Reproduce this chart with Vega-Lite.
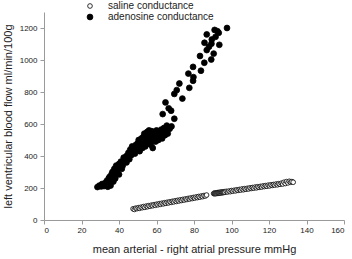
{
  "$schema": "https://vega.github.io/schema/vega-lite/v6.json",
  "width": 300,
  "height": 208,
  "autosize": {"type": "none"},
  "padding": {"left": 44, "top": 12, "right": 8, "bottom": 39},
  "background": "white",
  "config": {
    "view": {"stroke": null},
    "font": "Liberation Sans",
    "legend": {"labelOffset": 13},
    "axis": {
      "grid": false,
      "domainColor": "#9a9a9a",
      "tickColor": "#9a9a9a",
      "tickSize": 4,
      "labelFontSize": 8,
      "labelColor": "#222",
      "titleFontSize": 11,
      "titleFontWeight": "normal",
      "titleColor": "#222"
    }
  },
  "data": {
    "values": [
      {"x": 28.5, "y": 206, "g": "adenosine conductance"},
      {"x": 29.5, "y": 215, "g": "adenosine conductance"},
      {"x": 30.5, "y": 210, "g": "adenosine conductance"},
      {"x": 31, "y": 225, "g": "adenosine conductance"},
      {"x": 32, "y": 212, "g": "adenosine conductance"},
      {"x": 32.5, "y": 230, "g": "adenosine conductance"},
      {"x": 33, "y": 220, "g": "adenosine conductance"},
      {"x": 33.5, "y": 245, "g": "adenosine conductance"},
      {"x": 34, "y": 208, "g": "adenosine conductance"},
      {"x": 34.5, "y": 260, "g": "adenosine conductance"},
      {"x": 35, "y": 232, "g": "adenosine conductance"},
      {"x": 35, "y": 270, "g": "adenosine conductance"},
      {"x": 35.5, "y": 215, "g": "adenosine conductance"},
      {"x": 36, "y": 250, "g": "adenosine conductance"},
      {"x": 36, "y": 285, "g": "adenosine conductance"},
      {"x": 36.5, "y": 300, "g": "adenosine conductance"},
      {"x": 37, "y": 240, "g": "adenosine conductance"},
      {"x": 37, "y": 275, "g": "adenosine conductance"},
      {"x": 37.5, "y": 320, "g": "adenosine conductance"},
      {"x": 38, "y": 290, "g": "adenosine conductance"},
      {"x": 38, "y": 260, "g": "adenosine conductance"},
      {"x": 38.5, "y": 340, "g": "adenosine conductance"},
      {"x": 39, "y": 305, "g": "adenosine conductance"},
      {"x": 39.5, "y": 330, "g": "adenosine conductance"},
      {"x": 40, "y": 350, "g": "adenosine conductance"},
      {"x": 40, "y": 285, "g": "adenosine conductance"},
      {"x": 41, "y": 365, "g": "adenosine conductance"},
      {"x": 41.5, "y": 320, "g": "adenosine conductance"},
      {"x": 42, "y": 340, "g": "adenosine conductance"},
      {"x": 42.5, "y": 390, "g": "adenosine conductance"},
      {"x": 43, "y": 370, "g": "adenosine conductance"},
      {"x": 44, "y": 400, "g": "adenosine conductance"},
      {"x": 44, "y": 360, "g": "adenosine conductance"},
      {"x": 45, "y": 420, "g": "adenosine conductance"},
      {"x": 45.5, "y": 380, "g": "adenosine conductance"},
      {"x": 46, "y": 440, "g": "adenosine conductance"},
      {"x": 46.5, "y": 405, "g": "adenosine conductance"},
      {"x": 47, "y": 460, "g": "adenosine conductance"},
      {"x": 47, "y": 430, "g": "adenosine conductance"},
      {"x": 48, "y": 450, "g": "adenosine conductance"},
      {"x": 48.5, "y": 415, "g": "adenosine conductance"},
      {"x": 49, "y": 470, "g": "adenosine conductance"},
      {"x": 49.5, "y": 440, "g": "adenosine conductance"},
      {"x": 50, "y": 480, "g": "adenosine conductance"},
      {"x": 50, "y": 455, "g": "adenosine conductance"},
      {"x": 50.5, "y": 500, "g": "adenosine conductance"},
      {"x": 51, "y": 430, "g": "adenosine conductance"},
      {"x": 51.5, "y": 470, "g": "adenosine conductance"},
      {"x": 52, "y": 510, "g": "adenosine conductance"},
      {"x": 52, "y": 490, "g": "adenosine conductance"},
      {"x": 52.5, "y": 450, "g": "adenosine conductance"},
      {"x": 53, "y": 520, "g": "adenosine conductance"},
      {"x": 53, "y": 475, "g": "adenosine conductance"},
      {"x": 53.5, "y": 540, "g": "adenosine conductance"},
      {"x": 54, "y": 500, "g": "adenosine conductance"},
      {"x": 54, "y": 460, "g": "adenosine conductance"},
      {"x": 54.5, "y": 530, "g": "adenosine conductance"},
      {"x": 55, "y": 550, "g": "adenosine conductance"},
      {"x": 55, "y": 510, "g": "adenosine conductance"},
      {"x": 55.5, "y": 480, "g": "adenosine conductance"},
      {"x": 56, "y": 560, "g": "adenosine conductance"},
      {"x": 56, "y": 520, "g": "adenosine conductance"},
      {"x": 56.5, "y": 540, "g": "adenosine conductance"},
      {"x": 57, "y": 500, "g": "adenosine conductance"},
      {"x": 57, "y": 470, "g": "adenosine conductance"},
      {"x": 57.5, "y": 555, "g": "adenosine conductance"},
      {"x": 58, "y": 530, "g": "adenosine conductance"},
      {"x": 58, "y": 450, "g": "adenosine conductance"},
      {"x": 58.5, "y": 510, "g": "adenosine conductance"},
      {"x": 59, "y": 545, "g": "adenosine conductance"},
      {"x": 59.5, "y": 490, "g": "adenosine conductance"},
      {"x": 60, "y": 520, "g": "adenosine conductance"},
      {"x": 60, "y": 560, "g": "adenosine conductance"},
      {"x": 61, "y": 500, "g": "adenosine conductance"},
      {"x": 61.5, "y": 540, "g": "adenosine conductance"},
      {"x": 62, "y": 525, "g": "adenosine conductance"},
      {"x": 62.5, "y": 565, "g": "adenosine conductance"},
      {"x": 63, "y": 510, "g": "adenosine conductance"},
      {"x": 63.5, "y": 545, "g": "adenosine conductance"},
      {"x": 64, "y": 575, "g": "adenosine conductance"},
      {"x": 64.5, "y": 530, "g": "adenosine conductance"},
      {"x": 65, "y": 555, "g": "adenosine conductance"},
      {"x": 65.5, "y": 590, "g": "adenosine conductance"},
      {"x": 66, "y": 540, "g": "adenosine conductance"},
      {"x": 67, "y": 570, "g": "adenosine conductance"},
      {"x": 68, "y": 585, "g": "adenosine conductance"},
      {"x": 63.3, "y": 662, "g": "adenosine conductance"},
      {"x": 64.8, "y": 735, "g": "adenosine conductance"},
      {"x": 66.5, "y": 698, "g": "adenosine conductance"},
      {"x": 67.8, "y": 683, "g": "adenosine conductance"},
      {"x": 69.5, "y": 633, "g": "adenosine conductance"},
      {"x": 69.5, "y": 788, "g": "adenosine conductance"},
      {"x": 70.8, "y": 812, "g": "adenosine conductance"},
      {"x": 72.2, "y": 853, "g": "adenosine conductance"},
      {"x": 73.8, "y": 759, "g": "adenosine conductance"},
      {"x": 77.5, "y": 826, "g": "adenosine conductance"},
      {"x": 77, "y": 915, "g": "adenosine conductance"},
      {"x": 79.5, "y": 870, "g": "adenosine conductance"},
      {"x": 79.7, "y": 893, "g": "adenosine conductance"},
      {"x": 79.5, "y": 957, "g": "adenosine conductance"},
      {"x": 83.7, "y": 933, "g": "adenosine conductance"},
      {"x": 83.2, "y": 1025, "g": "adenosine conductance"},
      {"x": 85.5, "y": 983, "g": "adenosine conductance"},
      {"x": 86.8, "y": 1062, "g": "adenosine conductance"},
      {"x": 85.6, "y": 1108, "g": "adenosine conductance"},
      {"x": 86.8, "y": 1160, "g": "adenosine conductance"},
      {"x": 89.5, "y": 1128, "g": "adenosine conductance"},
      {"x": 89.2, "y": 1003, "g": "adenosine conductance"},
      {"x": 88, "y": 1083, "g": "adenosine conductance"},
      {"x": 89.3, "y": 1102, "g": "adenosine conductance"},
      {"x": 90.5, "y": 1040, "g": "adenosine conductance"},
      {"x": 91, "y": 1188, "g": "adenosine conductance"},
      {"x": 91.5, "y": 1145, "g": "adenosine conductance"},
      {"x": 93.2, "y": 1170, "g": "adenosine conductance"},
      {"x": 93.5, "y": 1095, "g": "adenosine conductance"},
      {"x": 92.5, "y": 1180, "g": "adenosine conductance"},
      {"x": 97.6, "y": 1200, "g": "adenosine conductance"},
      {"x": 47.5, "y": 70, "g": "saline conductance"},
      {"x": 48.2, "y": 66, "g": "saline conductance"},
      {"x": 48.9, "y": 74, "g": "saline conductance"},
      {"x": 49.6, "y": 71, "g": "saline conductance"},
      {"x": 50.3, "y": 77, "g": "saline conductance"},
      {"x": 51, "y": 73, "g": "saline conductance"},
      {"x": 51.7, "y": 80, "g": "saline conductance"},
      {"x": 52.4, "y": 77, "g": "saline conductance"},
      {"x": 53.1, "y": 84, "g": "saline conductance"},
      {"x": 53.8, "y": 79, "g": "saline conductance"},
      {"x": 54.5, "y": 87, "g": "saline conductance"},
      {"x": 55.2, "y": 83, "g": "saline conductance"},
      {"x": 55.9, "y": 90, "g": "saline conductance"},
      {"x": 56.6, "y": 86, "g": "saline conductance"},
      {"x": 57.3, "y": 93, "g": "saline conductance"},
      {"x": 58, "y": 89, "g": "saline conductance"},
      {"x": 58.7, "y": 96, "g": "saline conductance"},
      {"x": 59.4, "y": 92, "g": "saline conductance"},
      {"x": 60.1, "y": 99, "g": "saline conductance"},
      {"x": 60.8, "y": 95, "g": "saline conductance"},
      {"x": 61.5, "y": 102, "g": "saline conductance"},
      {"x": 62.2, "y": 98, "g": "saline conductance"},
      {"x": 62.9, "y": 105, "g": "saline conductance"},
      {"x": 63.6, "y": 101, "g": "saline conductance"},
      {"x": 64.3, "y": 108, "g": "saline conductance"},
      {"x": 65, "y": 104, "g": "saline conductance"},
      {"x": 65.7, "y": 111, "g": "saline conductance"},
      {"x": 66.4, "y": 107, "g": "saline conductance"},
      {"x": 67.1, "y": 114, "g": "saline conductance"},
      {"x": 67.8, "y": 110, "g": "saline conductance"},
      {"x": 68.5, "y": 117, "g": "saline conductance"},
      {"x": 69.2, "y": 113, "g": "saline conductance"},
      {"x": 69.9, "y": 120, "g": "saline conductance"},
      {"x": 70.6, "y": 116, "g": "saline conductance"},
      {"x": 71.3, "y": 123, "g": "saline conductance"},
      {"x": 72, "y": 119, "g": "saline conductance"},
      {"x": 72.7, "y": 126, "g": "saline conductance"},
      {"x": 73.4, "y": 122, "g": "saline conductance"},
      {"x": 74.1, "y": 129, "g": "saline conductance"},
      {"x": 74.8, "y": 125, "g": "saline conductance"},
      {"x": 75.5, "y": 132, "g": "saline conductance"},
      {"x": 76.2, "y": 128, "g": "saline conductance"},
      {"x": 76.9, "y": 135, "g": "saline conductance"},
      {"x": 77.6, "y": 131, "g": "saline conductance"},
      {"x": 78.3, "y": 138, "g": "saline conductance"},
      {"x": 79, "y": 134, "g": "saline conductance"},
      {"x": 79.7, "y": 141, "g": "saline conductance"},
      {"x": 80.4, "y": 137, "g": "saline conductance"},
      {"x": 81.1, "y": 144, "g": "saline conductance"},
      {"x": 81.8, "y": 140, "g": "saline conductance"},
      {"x": 82.5, "y": 147, "g": "saline conductance"},
      {"x": 83.2, "y": 143, "g": "saline conductance"},
      {"x": 83.9, "y": 150, "g": "saline conductance"},
      {"x": 84.6, "y": 146, "g": "saline conductance"},
      {"x": 85.3, "y": 153, "g": "saline conductance"},
      {"x": 86, "y": 150, "g": "saline conductance"},
      {"x": 86.7, "y": 156, "g": "saline conductance"},
      {"x": 90.5, "y": 165, "g": "saline conductance"},
      {"x": 90.8, "y": 168, "g": "saline conductance"},
      {"x": 91.1, "y": 164, "g": "saline conductance"},
      {"x": 91.4, "y": 169, "g": "saline conductance"},
      {"x": 91.7, "y": 165, "g": "saline conductance"},
      {"x": 92, "y": 170, "g": "saline conductance"},
      {"x": 92.3, "y": 166, "g": "saline conductance"},
      {"x": 92.6, "y": 171, "g": "saline conductance"},
      {"x": 92.9, "y": 167, "g": "saline conductance"},
      {"x": 93.2, "y": 172, "g": "saline conductance"},
      {"x": 93.5, "y": 168, "g": "saline conductance"},
      {"x": 93.8, "y": 173, "g": "saline conductance"},
      {"x": 94.1, "y": 169, "g": "saline conductance"},
      {"x": 94.4, "y": 174, "g": "saline conductance"},
      {"x": 94.7, "y": 170, "g": "saline conductance"},
      {"x": 95, "y": 175, "g": "saline conductance"},
      {"x": 95.3, "y": 171, "g": "saline conductance"},
      {"x": 95.6, "y": 176, "g": "saline conductance"},
      {"x": 95.9, "y": 172, "g": "saline conductance"},
      {"x": 96.2, "y": 177, "g": "saline conductance"},
      {"x": 96.5, "y": 173, "g": "saline conductance"},
      {"x": 97.2, "y": 179, "g": "saline conductance"},
      {"x": 97.9, "y": 175, "g": "saline conductance"},
      {"x": 98.6, "y": 181, "g": "saline conductance"},
      {"x": 99.3, "y": 177, "g": "saline conductance"},
      {"x": 100, "y": 184, "g": "saline conductance"},
      {"x": 100.7, "y": 180, "g": "saline conductance"},
      {"x": 101.4, "y": 186, "g": "saline conductance"},
      {"x": 102.1, "y": 182, "g": "saline conductance"},
      {"x": 102.8, "y": 189, "g": "saline conductance"},
      {"x": 103.5, "y": 185, "g": "saline conductance"},
      {"x": 104.2, "y": 191, "g": "saline conductance"},
      {"x": 104.9, "y": 187, "g": "saline conductance"},
      {"x": 105.6, "y": 194, "g": "saline conductance"},
      {"x": 106.3, "y": 189, "g": "saline conductance"},
      {"x": 107, "y": 196, "g": "saline conductance"},
      {"x": 107.7, "y": 192, "g": "saline conductance"},
      {"x": 108.4, "y": 198, "g": "saline conductance"},
      {"x": 109.1, "y": 194, "g": "saline conductance"},
      {"x": 109.8, "y": 201, "g": "saline conductance"},
      {"x": 110.5, "y": 197, "g": "saline conductance"},
      {"x": 111.2, "y": 203, "g": "saline conductance"},
      {"x": 111.9, "y": 199, "g": "saline conductance"},
      {"x": 112.6, "y": 206, "g": "saline conductance"},
      {"x": 113.3, "y": 201, "g": "saline conductance"},
      {"x": 114, "y": 208, "g": "saline conductance"},
      {"x": 114.7, "y": 204, "g": "saline conductance"},
      {"x": 115.4, "y": 210, "g": "saline conductance"},
      {"x": 116.1, "y": 206, "g": "saline conductance"},
      {"x": 116.8, "y": 213, "g": "saline conductance"},
      {"x": 117.5, "y": 209, "g": "saline conductance"},
      {"x": 118.2, "y": 215, "g": "saline conductance"},
      {"x": 118.9, "y": 211, "g": "saline conductance"},
      {"x": 119.6, "y": 218, "g": "saline conductance"},
      {"x": 120.3, "y": 213, "g": "saline conductance"},
      {"x": 121, "y": 220, "g": "saline conductance"},
      {"x": 121.7, "y": 216, "g": "saline conductance"},
      {"x": 122.4, "y": 222, "g": "saline conductance"},
      {"x": 123.1, "y": 218, "g": "saline conductance"},
      {"x": 123.8, "y": 225, "g": "saline conductance"},
      {"x": 124.5, "y": 220, "g": "saline conductance"},
      {"x": 125.2, "y": 227, "g": "saline conductance"},
      {"x": 125.9, "y": 223, "g": "saline conductance"},
      {"x": 126.6, "y": 230, "g": "saline conductance"},
      {"x": 127.3, "y": 225, "g": "saline conductance"},
      {"x": 128, "y": 236, "g": "saline conductance"},
      {"x": 128.7, "y": 228, "g": "saline conductance"},
      {"x": 129.4, "y": 240, "g": "saline conductance"},
      {"x": 130.1, "y": 232, "g": "saline conductance"},
      {"x": 130.8, "y": 242, "g": "saline conductance"},
      {"x": 131.5, "y": 236, "g": "saline conductance"},
      {"x": 132.2, "y": 240, "g": "saline conductance"},
      {"x": 132.9, "y": 236, "g": "saline conductance"}
    ]
  },
  "mark": {"type": "point", "filled": true, "stroke": "black", "strokeWidth": 0.8, "opacity": 1},
  "encoding": {
    "x": {
      "field": "x", "type": "quantitative",
      "scale": {"domain": [0, 160], "nice": false, "zero": false},
      "axis": {"values": [0, 20, 40, 60, 80, 100, 120, 140, 160], "format": "d", "title": "mean arterial - right atrial pressure mmHg", "labelPadding": 2, "titlePadding": 9}
    },
    "y": {
      "field": "y", "type": "quantitative",
      "scale": {"domain": [0, 1300], "nice": false},
      "axis": {"values": [0, 200, 400, 600, 800, 1000, 1200], "format": "d", "title": "left ventricular blood flow ml/min/100g", "labelPadding": 3, "titlePadding": 6}
    },
    "fill": {
      "field": "g", "type": "nominal",
      "scale": {"domain": ["saline conductance", "adenosine conductance"], "range": ["white", "black"]},
      "legend": {
        "title": null,
        "orient": "none",
        "legendX": 41,
        "legendY": -11,
        "padding": 0,
        "rowPadding": 1,
        "labelFontSize": 10,
        "labelColor": "#222",
        "symbolStrokeColor": "black",
        "symbolStrokeWidth": 0.8
      }
    },
    "size": {
      "field": "g", "type": "nominal",
      "scale": {"domain": ["saline conductance", "adenosine conductance"], "range": [22, 34]},
      "legend": {"title": null, "labelOffset": 13}
    }
  }
}
